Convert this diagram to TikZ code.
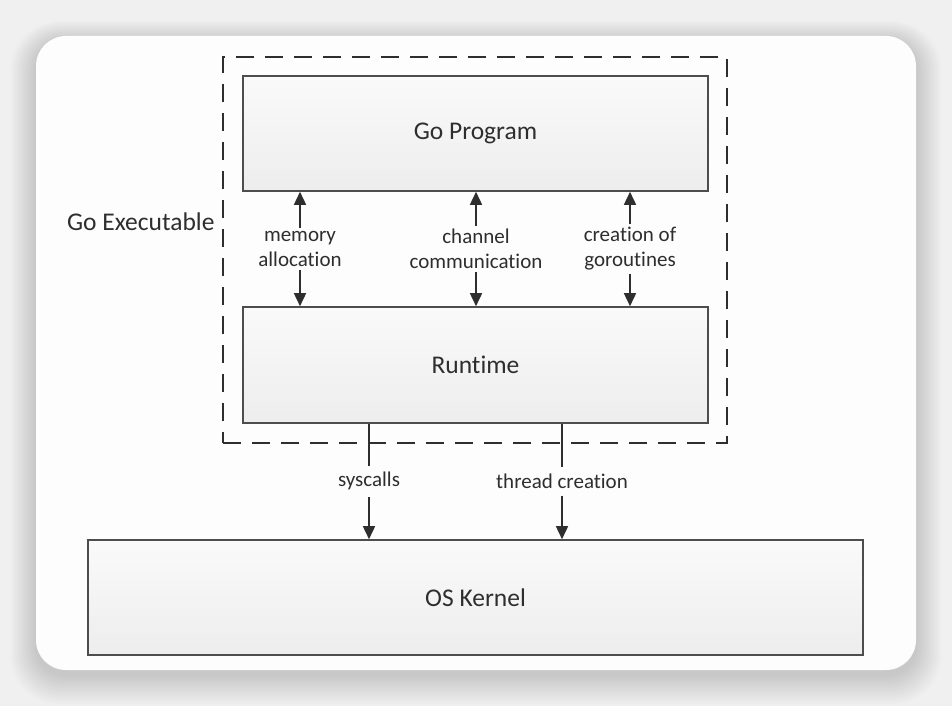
\documentclass[tikz,border=0pt]{standalone}
\usepackage{fontspec}
\setmainfont{Carlito}[Ligatures={NoCommon}]
\usetikzlibrary{arrows.meta,calc}
\definecolor{ink}{HTML}{2E2E2E}
\definecolor{bg}{HTML}{F0F0F0}
\definecolor{card}{HTML}{FDFDFD}
\tikzset{
  box/.style={draw=ink!85, line width=1.6pt, top color=gray!4, bottom color=gray!14, font=\fontsize{25.5}{30}\selectfont, text=ink, inner sep=0pt},
  lbl/.style={font=\fontsize{21}{25}\selectfont, text=ink, align=center, inner sep=0pt},
  conn/.style={draw=ink, line width=1.6pt},
  arr/.style={conn, -{Triangle[length=13pt,width=12pt]}},
}
\begin{document}
\begin{tikzpicture}[x=1pt,y=-1pt]
\useasboundingbox (0,0) rectangle (952,706);
\fill[bg] (0,0) rectangle (952,706);
\foreach \i in {1,...,20}{
  \fill[black, opacity=0.007, rounded corners=30+\i] (36-\i*1.3,36-\i*1.0+5) rectangle (916+\i*1.3,670+\i*1.5+5);
}
\fill[card, rounded corners=30] (36,36) rectangle (916,670);
% dashed executable frame
\node[draw=ink, line width=1.6pt, dash pattern=on 18pt off 11pt, minimum width=504pt, minimum height=386pt, inner sep=0pt] (exe) at (475,250) {};
\node[anchor=east, font=\fontsize{25.5}{30}\selectfont, text=ink] (exel) at (218,222) {Go Executable};
% boxes
\node[box, minimum width=465pt, minimum height=115pt] (gp) at (475.5,133.5) {Go Program};
\node[box, minimum width=465pt, minimum height=116pt] (rt) at (475.5,365) {Runtime};
\node[box, minimum width=775pt, minimum height=115pt] (os) at (475.5,597.5) {OS Kernel};
% labels between program and runtime
\node[lbl] (ma) at (300,249) {memory\\allocation};
\node[lbl] (cc) at (476,249) {channel\\communication};
\node[lbl] (cg) at (630,249) {creation of\\goroutines};
\foreach \n in {ma,cc,cg}{
  \draw[arr] ($(\n.north)+(0,-3)$) -- (\n.north |- gp.south);
  \draw[arr] ($(\n.south)+(0,3)$) -- (\n.south |- rt.north);
}
% labels between runtime and kernel
\node[lbl] (sc) at (369,481) {syscalls};
\node[lbl] (tc) at (562,481) {thread creation};
\foreach \n in {sc,tc}{
  \draw[conn] (\n.north |- rt.south) -- ($(\n.north)+(0,-6)$);
  \draw[arr] ($(\n.south)+(0,7)$) -- (\n.south |- os.north);
}
\end{tikzpicture}
\end{document}
